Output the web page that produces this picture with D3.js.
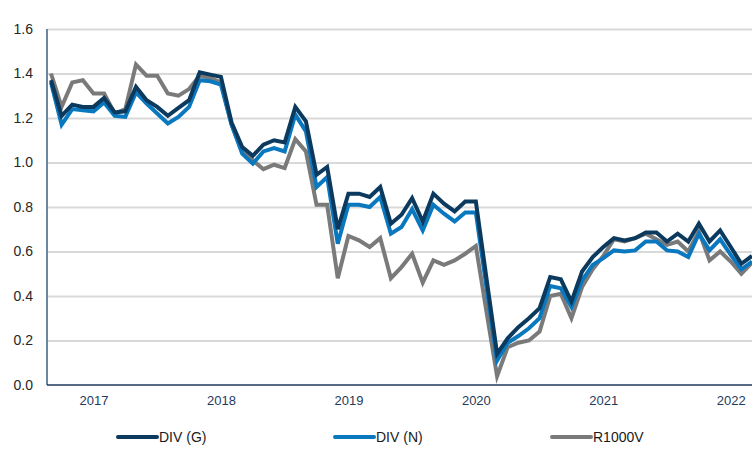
<!DOCTYPE html>
<html>
<head>
<meta charset="utf-8">
<script src="https://cdn.jsdelivr.net/npm/d3@7"></script>
<style>
  body { margin: 0; background: #fff; }
  svg { display: block; font-family: "Liberation Sans", Arial, sans-serif; }
</style>
</head>
<body>
<div id="chart"></div>
<script>
"use strict";

// monthly observations, Sep 2016 .. Mar 2022
var months = d3.timeMonth.range(new Date(2016, 8, 1), new Date(2022, 3, 1));
var yearTicks = [2017, 2018, 2019, 2020, 2021, 2022];
var yTicks = [0, 0.2, 0.4, 0.6, 0.8, 1.0, 1.2, 1.4, 1.6];

var divG = [1.37, 1.21, 1.26, 1.25, 1.25, 1.29, 1.225, 1.23, 1.34, 1.28, 1.25, 1.21,
            1.245, 1.28, 1.405, 1.395, 1.385, 1.18, 1.07, 1.03, 1.08, 1.10, 1.09, 1.25,
            1.185, 0.945, 0.98, 0.70, 0.86, 0.86, 0.845, 0.89, 0.725, 0.765, 0.84, 0.735,
            0.86, 0.815, 0.78, 0.825, 0.825, 0.48, 0.14, 0.21, 0.26, 0.30, 0.345, 0.485,
            0.475, 0.375, 0.51, 0.575, 0.62, 0.66, 0.65, 0.66, 0.685, 0.685, 0.645, 0.68,
            0.645, 0.725, 0.645, 0.695, 0.62, 0.545, 0.58];
var divN = [1.36, 1.17, 1.24, 1.235, 1.23, 1.27, 1.21, 1.205, 1.315, 1.265, 1.22, 1.175,
            1.205, 1.25, 1.37, 1.365, 1.35, 1.17, 1.04, 0.995, 1.05, 1.065, 1.05, 1.215,
            1.14, 0.89, 0.935, 0.635, 0.81, 0.81, 0.80, 0.845, 0.68, 0.71, 0.79, 0.695,
            0.81, 0.77, 0.735, 0.775, 0.775, 0.44, 0.11, 0.19, 0.22, 0.255, 0.30, 0.445,
            0.435, 0.35, 0.47, 0.54, 0.57, 0.605, 0.60, 0.605, 0.645, 0.645, 0.605, 0.60,
            0.575, 0.68, 0.605, 0.655, 0.585, 0.52, 0.555];
var r1000v = [1.40, 1.25, 1.36, 1.37, 1.31, 1.31, 1.22, 1.24, 1.44, 1.39, 1.39, 1.31,
              1.30, 1.33, 1.39, 1.38, 1.36, 1.17, 1.05, 1.01, 0.97, 0.99, 0.975, 1.105,
              1.05, 0.81, 0.81, 0.48, 0.67, 0.65, 0.62, 0.66, 0.48, 0.53, 0.59, 0.46,
              0.56, 0.54, 0.56, 0.59, 0.625, 0.33, 0.04, 0.17, 0.19, 0.20, 0.24, 0.40,
              0.41, 0.30, 0.44, 0.52, 0.58, 0.655, 0.645, 0.66, 0.68, 0.655, 0.63, 0.645,
              0.60, 0.69, 0.56, 0.60, 0.555, 0.50, 0.55];

var seriesNames = ["DIV (G)", "DIV (N)", "R1000V"];
var seriesColors = ["#0b3a5e", "#0a78bf", "#7a7a7a"];
var seriesData = [divG, divN, r1000v];

var width = 752, height = 449;
var svg = d3.select('#chart').append('svg')
  .attr('width', width)
  .attr('height', height);

var x = d3.scalePoint()
  .domain(d3.range(months.length))
  .range([51, 752]);
var y = d3.scaleLinear()
  .domain([0, 1.6])
  .range([385, 29]);

// gridlines
svg.append('g')
  .attr('transform', 'translate(47,0)')
  .call(d3.axisLeft(y).tickValues(yTicks.slice(1)).tickSize(-(width - 47)).tickFormat(''))
  .call(function(g) {
    g.select('.domain').remove();
    g.selectAll('line').attr('stroke', '#d9d9d9').attr('stroke-width', 2);
  });

// y axis labels
svg.append('g')
  .attr('transform', 'translate(33,0)')
  .call(d3.axisLeft(y).tickValues(yTicks).tickSize(0).tickPadding(0).tickFormat(d3.format('.1f')))
  .call(function(g) {
    g.select('.domain').remove();
    g.selectAll('text').attr('fill', '#262626').style('font-size', '14px');
  });

// x axis labels at January of each year
var janIndex = yearTicks.map(function(yr) {
  return months.findIndex(function(m) { return m.getFullYear() === yr && m.getMonth() === 0; });
});
svg.append('g')
  .attr('transform', 'translate(0,385)')
  .call(d3.axisBottom(x).tickValues(janIndex).tickSize(0).tickPadding(11)
    .tickFormat(function(i) { return months[i].getFullYear(); }))
  .call(function(g) {
    g.select('.domain').remove();
    g.selectAll('text').attr('fill', '#1f3a5c').style('font-size', '13px');
  });

// lines (gray drawn first, navy on top)
var line = d3.line()
  .x(function(d, i) { return x(i); })
  .y(function(d) { return y(d); });

[2, 1, 0].forEach(function(k) {
  svg.append('path')
    .datum(seriesData[k])
    .attr('fill', 'none')
    .attr('stroke', seriesColors[k])
    .attr('stroke-width', 4)
    .attr('stroke-linejoin', 'miter')
    .attr('d', line);
});

// axis lines
svg.append('line')
  .attr('x1', 47).attr('x2', 47).attr('y1', 29).attr('y2', 385)
  .attr('stroke', '#6c87a0').attr('stroke-width', 2);
svg.append('line')
  .attr('x1', 47).attr('x2', width).attr('y1', 385).attr('y2', 385)
  .attr('stroke', '#1f3a5c').attr('stroke-width', 1.5);

// legend
var legendX = [118, 335, 552];
var legend = svg.selectAll('.legend')
  .data(seriesNames).enter()
  .append('g')
  .attr('class', 'legend')
  .attr('transform', function(d, i) { return 'translate(' + legendX[i] + ',437)'; });
legend.append('line')
  .attr('x1', 0).attr('x2', 39)
  .attr('stroke', function(d, i) { return seriesColors[i]; })
  .attr('stroke-width', 4)
  .attr('stroke-linecap', 'round');
legend.append('text')
  .attr('x', 41)
  .attr('dy', '0.35em')
  .attr('fill', '#1a1a1a')
  .style('font-size', '14px')
  .text(function(d) { return d; });
</script>
</body>
</html>
